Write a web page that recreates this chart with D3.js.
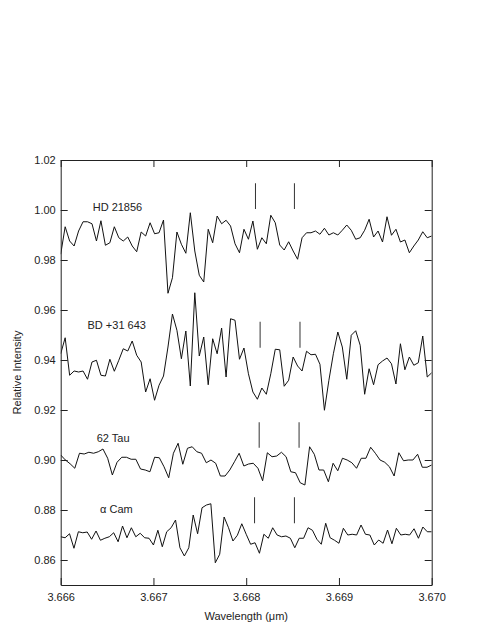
<!DOCTYPE html>
<html><head><meta charset="utf-8">
<script src="https://cdn.jsdelivr.net/npm/d3@7"></script>
<style>
body{margin:0;background:#fff}
svg{display:block}
text{font-family:"Liberation Sans",Arial,Helvetica,sans-serif}
</style>
</head><body><div id="chart"></div>
<script>
// ---- data ----
const seriesNames = ["HD 21856", "BD +31 643", "62 Tau", "\u03b1 Cam"];
const wavelengthRange = [3.666, 3.670];

const hd21856 = [
0.9823,0.9933,0.9876,0.9856,0.9916,0.9953,0.9953,0.9945,0.9876,0.9957,
0.9859,0.9869,0.9933,0.9889,0.9876,0.9892,0.9856,0.9833,0.9912,0.9896,
0.9949,0.9905,0.9909,0.9960,0.9667,0.9729,0.9912,0.9863,0.9827,0.9989,
0.9836,0.9739,0.9712,0.9923,0.9869,0.9976,0.9945,0.9959,0.9936,0.9865,
0.9829,0.9923,0.9883,0.9956,0.9843,0.9889,0.9865,0.9979,0.9949,0.9860,
0.9840,0.9873,0.9836,0.9803,0.9889,0.9909,0.9909,0.9916,0.9903,0.9927,
0.9900,0.9909,0.9900,0.9919,0.9940,0.9919,0.9883,0.9889,0.9919,0.9963,
0.9892,0.9916,0.9872,0.9973,0.9899,0.9923,0.9872,0.9880,0.9829,0.9856,
0.9880,0.9913,0.9889,0.9896];

const bd31643 = [
0.9425,0.9489,0.9339,0.9356,0.9352,0.9356,0.9323,0.9392,0.9399,0.9339,
0.9336,0.9403,0.9355,0.9399,0.9445,0.9436,0.9476,0.9419,0.9392,0.9272,
0.9325,0.9239,0.9299,0.9336,0.9452,0.9584,0.9519,0.9405,0.9516,0.9296,
0.9669,0.9416,0.9492,0.9301,0.9485,0.9425,0.9528,0.9332,0.9565,0.9559,
0.9403,0.9448,0.9345,0.9272,0.9243,0.9288,0.9263,0.9345,0.9443,0.9441,
0.9295,0.9319,0.9412,0.9376,0.9356,0.9435,0.9421,0.9423,0.9383,0.9199,
0.9319,0.9425,0.9512,0.9452,0.9323,0.9499,0.9517,0.9459,0.9263,0.9365,
0.9301,0.9381,0.9396,0.9408,0.9385,0.9304,0.9465,0.9361,0.9412,0.9379,
0.9389,0.9496,0.9332,0.9349];

const tau62 = [
0.9020,0.9000,0.8985,0.8967,0.9027,0.9024,0.9031,0.9027,0.9033,0.9044,
0.9007,0.8940,0.8991,0.9011,0.9011,0.9003,0.9003,0.8964,0.8960,0.8953,
0.9011,0.9009,0.8973,0.8929,0.9027,0.9067,0.8983,0.9047,0.9053,0.9033,
0.9027,0.8989,0.9000,0.8987,0.8936,0.8936,0.8960,0.8993,0.9027,0.8976,
0.8984,0.8987,0.8967,0.8917,0.9029,0.9013,0.9016,0.9031,0.9013,0.8953,
0.8949,0.8909,0.8900,0.9053,0.9023,0.8960,0.8960,0.8913,0.8987,0.8957,
0.9007,0.9000,0.8989,0.8967,0.9007,0.9007,0.9051,0.9027,0.9000,0.8991,
0.8973,0.8936,0.9029,0.8997,0.9000,0.9000,0.9023,0.8971,0.8971,0.8980];

const alphaCam = [
0.8693,0.8689,0.8705,0.8647,0.8713,0.8709,0.8712,0.8683,0.8716,0.8679,
0.8687,0.8693,0.8709,0.8673,0.8736,0.8689,0.8729,0.8693,0.8707,0.8689,
0.8687,0.8660,0.8719,0.8653,0.8713,0.8729,0.8760,0.8649,0.8616,0.8649,
0.8780,0.8705,0.8809,0.8820,0.8825,0.8589,0.8623,0.8772,0.8729,0.8676,
0.8699,0.8745,0.8703,0.8663,0.8669,0.8627,0.8703,0.8687,0.8729,0.8700,
0.8693,0.8696,0.8687,0.8649,0.8687,0.8687,0.8729,0.8719,0.8683,0.8663,
0.8747,0.8689,0.8679,0.8667,0.8727,0.8700,0.8703,0.8700,0.8740,0.8703,
0.8700,0.8660,0.8680,0.8667,0.8720,0.8665,0.8727,0.8700,0.8703,0.8700,
0.8725,0.8687,0.8732,0.8713,0.8713];

// line-marker wavelengths (pairs) and their intensity spans, one per spectrum
const markerWavelengths = [[3.66810, 3.66852], [3.66815, 3.66858], [3.66814, 3.66857], [3.66809, 3.66852]];
const markerSpans = [[1.0004, 1.0107], [0.9449, 0.9553], [0.9049, 0.9151], [0.8747, 0.8851]];
// label anchor (wavelength, intensity) per spectrum
const labelWavelengths = [3.666345, 3.666289, 3.666388, 3.666424];
const labelIntensities = [0.9996, 0.9524, 0.9074, 0.8788];

const xTicks = [3.666, 3.667, 3.668, 3.669, 3.670];
const yTicks = [0.86, 0.88, 0.90, 0.92, 0.94, 0.96, 0.98, 1.00, 1.02];
const yDomain = [0.85, 1.02];

const xTitle = "Wavelength (\u03bcm)";
const yTitle = "Relative Intensity";

// ---- drawing ----
const W = 485, H = 627;
const L = 60.7, R = 431.7, T = 160, B = 585;

const svg = d3.select("#chart").append("svg").attr("width", W).attr("height", H);

const x = d3.scaleLinear().domain(wavelengthRange).range([L, R]);
const y = d3.scaleLinear().domain(yDomain).range([B, T]);

const allSeries = [hd21856, bd31643, tau62, alphaCam];
const line = d3.line().x(d => x(d[0])).y(d => y(d[1]));

svg.append("defs").append("clipPath").attr("id", "clip")
  .append("rect").attr("x", L).attr("y", T).attr("width", R - L).attr("height", B - T);

const plot = svg.append("g").attr("clip-path", "url(#clip)");
allSeries.forEach(vals => {
  const n = vals.length;
  const step = (wavelengthRange[1] - wavelengthRange[0]) / (n - 1);
  const pts = vals.map((v, i) => [wavelengthRange[0] + i * step, v]);
  plot.append("path").datum(pts)
    .attr("fill", "none").attr("stroke", "#111").attr("stroke-width", 1)
    .attr("stroke-linejoin", "miter")
    .attr("d", line);
});

// marker lines
markerWavelengths.forEach((pair, k) => {
  pair.forEach(w => {
    svg.append("line")
      .attr("x1", x(w)).attr("x2", x(w))
      .attr("y1", y(markerSpans[k][0])).attr("y2", y(markerSpans[k][1]))
      .attr("stroke", "#333").attr("stroke-width", 1);
  });
});

// labels
seriesNames.forEach((name, k) => {
  svg.append("text")
    .attr("x", x(labelWavelengths[k])).attr("y", y(labelIntensities[k]))
    .attr("font-size", 11).attr("fill", "#222")
    .text(name);
});

// axes
const fmtX = d3.format(".3f"), fmtY = d3.format(".2f");
const axB = svg.append("g").attr("transform", `translate(0,${B})`)
  .call(d3.axisBottom(x).tickValues(xTicks).tickFormat(fmtX).tickSizeInner(-7).tickSizeOuter(0).tickPadding(8));
const axT = svg.append("g").attr("transform", `translate(0,${T})`)
  .call(d3.axisTop(x).tickValues(xTicks).tickFormat("").tickSizeInner(-7).tickSizeOuter(0));
const axL = svg.append("g").attr("transform", `translate(${L},0)`)
  .call(d3.axisLeft(y).tickValues(yTicks).tickFormat(fmtY).tickSizeInner(-7).tickSizeOuter(0).tickPadding(5));
const axR = svg.append("g").attr("transform", `translate(${R},0)`)
  .call(d3.axisRight(y).tickValues(yTicks).tickFormat("").tickSizeInner(-7).tickSizeOuter(0));

[axB, axT, axL, axR].forEach(g => {
  g.selectAll("path.domain").attr("stroke", "#222").attr("stroke-width", 1);
  g.selectAll(".tick line").attr("stroke", "#222").attr("stroke-width", 1);
  g.selectAll(".tick text").attr("font-size", 11).attr("fill", "#222")
    .attr("font-family", '"Liberation Sans",Arial,Helvetica,sans-serif');
});

svg.append("text")
  .attr("x", (L + R) / 2).attr("y", 620)
  .attr("text-anchor", "middle").attr("font-size", 11).attr("fill", "#222")
  .text(xTitle);

svg.append("text")
  .attr("transform", `translate(21,${(T + B) / 2}) rotate(-90)`)
  .attr("text-anchor", "middle").attr("font-size", 11).attr("fill", "#222")
  .text(yTitle);
</script>
</body></html>
